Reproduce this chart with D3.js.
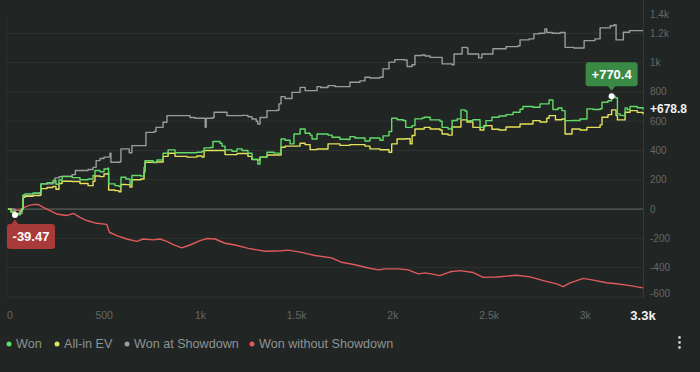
<!DOCTYPE html>
<html>
<head>
<meta charset="utf-8">
<script src="https://cdn.jsdelivr.net/npm/d3@7"></script>
<style>
  html, body { margin: 0; padding: 0; background: #212524; }
  svg { display: block; font-family: "Liberation Sans", Arial, sans-serif; }
</style>
</head>
<body>
<svg id="chart"></svg>
<script>
// [hand, amount]
const won = [[0,0],[16,-20],[36,-39.47],[62,-15],[73,0],[78,95],[88,104],[130,110],[166,113],[171,172],[203,180],[234,195],[249,170],[265,199],[281,222],[333,215],[374,200],[416,205],[442,230],[452,263],[478,255],[499,274],[518,280],[523,172],[556,160],[577,154],[587,217],[613,205],[634,170],[644,229],[691,225],[707,285],[712,331],[754,320],[774,335],[806,381],[832,404],[868,385],[930,385],[982,388],[1008,395],[1019,418],[1050,420],[1065,461],[1102,450],[1112,430],[1128,404],[1164,395],[1190,411],[1216,400],[1247,381],[1268,340],[1298,308],[1310,355],[1346,388],[1382,382],[1408,380],[1419,479],[1440,470],[1466,445],[1486,513],[1518,547],[1544,518],[1570,505],[1580,479],[1606,513],[1663,505],[1684,490],[1725,477],[1767,475],[1777,495],[1803,485],[1840,485],[1855,465],[1881,485],[1933,470],[1949,500],[1980,530],[1994,620],[2022,610],[2053,605],[2067,558],[2100,570],[2115,616],[2152,622],[2163,627],[2194,609],[2245,600],[2256,558],[2287,547],[2308,605],[2334,616],[2354,677],[2375,670],[2385,604],[2416,610],[2453,558],[2473,565],[2484,604],[2515,627],[2552,635],[2588,645],[2625,661],[2661,682],[2676,700],[2728,695],[2765,718],[2812,745],[2832,680],[2858,690],[2879,672],[2895,604],[2931,605],[2973,615],[3009,684],[3040,680],[3077,685],[3087,729],[3118,740],[3137,770.4],[3155,760],[3167,650],[3181,640],[3197,638],[3207,691],[3218,680],[3233,700],[3270,692],[3300,678.8]];

const allInEv = [[0,0],[16,-20],[36,-35],[62,-15],[73,0],[78,80],[88,88],[130,92],[166,95],[171,140],[203,147],[234,155],[249,135],[265,175],[281,190],[333,188],[374,175],[416,160],[442,190],[452,226],[478,222],[499,240],[518,245],[523,130],[556,126],[577,118],[587,168],[613,167],[634,150],[644,200],[691,205],[707,255],[712,320],[754,318],[774,322],[806,360],[832,381],[868,360],[930,355],[982,362],[1008,355],[1019,400],[1065,400],[1102,400],[1128,372],[1190,380],[1247,360],[1268,338],[1298,335],[1310,355],[1346,369],[1408,369],[1419,422],[1440,430],[1518,450],[1544,440],[1570,406],[1606,410],[1663,445],[1725,435],[1777,440],[1855,430],[1881,411],[1933,405],[1980,388],[1994,445],[2022,479],[2067,480],[2090,445],[2100,502],[2115,547],[2163,558],[2194,547],[2245,540],[2256,513],[2287,505],[2308,560],[2354,609],[2385,595],[2416,558],[2453,540],[2473,570],[2515,545],[2552,540],[2588,560],[2661,581],[2728,604],[2765,595],[2800,620],[2812,638],[2845,610],[2879,615],[2895,513],[2931,547],[2973,540],[3009,558],[3077,575],[3087,627],[3118,645],[3137,677],[3160,640],[3167,609],[3197,609],[3207,661],[3233,672],[3270,660],[3300,648]];

const wonAtShowdown = [[0,0],[36,-30],[73,0],[78,95],[130,105],[166,110],[171,172],[234,180],[244,213],[265,222],[281,225],[333,235],[350,263],[416,270],[442,285],[458,331],[478,345],[499,355],[530,381],[535,320],[583,325],[587,411],[613,411],[630,385],[644,433],[712,433],[717,524],[759,530],[769,558],[806,593],[826,638],[920,638],[946,625],[972,620],[1024,615],[1025,558],[1030,620],[1065,625],[1071,661],[1112,661],[1138,638],[1216,640],[1247,630],[1268,615],[1290,600],[1298,581],[1310,625],[1346,672],[1398,675],[1408,718],[1419,768],[1440,755],[1476,797],[1518,831],[1544,809],[1590,809],[1606,836],[1625,830],[1663,843],[1700,836],[1767,836],[1777,866],[1829,875],[1855,900],[1881,895],[1933,900],[1949,957],[1980,1003],[2010,1020],[2060,1018],[2074,973],[2100,985],[2115,1048],[2152,1052],[2168,1045],[2194,1036],[2245,1036],[2256,991],[2308,985],[2318,1059],[2345,1059],[2360,1104],[2385,1100],[2390,1059],[2420,1059],[2446,1032],[2463,1059],[2520,1095],[2550,1095],[2588,1109],[2650,1115],[2661,1155],[2708,1162],[2733,1196],[2760,1200],[2790,1230],[2800,1205],[2830,1200],[2870,1205],[2895,1104],[2940,1100],[2983,1100],[2994,1150],[3050,1162],[3077,1237],[3130,1252],[3150,1259],[3160,1155],[3190,1155],[3198,1207],[3230,1218],[3300,1218]];

const wonWithoutShowdown = [[0,0],[36,-10],[62,-5],[80,8],[106,24],[130,31],[158,31],[184,12],[218,-10],[253,-33],[305,-44],[340,-29],[374,-56],[409,-78],[461,-97],[513,-104],[527,-158],[565,-181],[617,-204],[669,-220],[703,-204],[755,-210],[790,-204],[825,-220],[859,-242],[903,-265],[946,-245],[998,-215],[1033,-201],[1076,-204],[1128,-233],[1180,-245],[1249,-268],[1336,-288],[1422,-284],[1457,-280],[1526,-295],[1595,-317],[1682,-333],[1734,-363],[1803,-380],[1873,-402],[1925,-415],[1959,-408],[2028,-408],[2080,-415],[2132,-442],[2167,-435],[2219,-447],[2245,-454],[2297,-428],[2349,-420],[2418,-433],[2470,-466],[2540,-463],[2644,-452],[2713,-463],[2782,-488],[2851,-510],[2886,-529],[2921,-503],[2990,-473],[3042,-485],[3111,-503],[3163,-510],[3233,-522],[3284,-534],[3300,-538]];

const seriesNames = ["Won", "All-in EV", "Won at Showdown", "Won without Showdown"];
const seriesColors = ["#62dc68", "#e4e25a", "#9c9c9c", "#e05a5a"];
const xTicks = [0, 500, 1000, 1500, 2000, 2500, 3000];
const xTickLabels = ["0", "500", "1k", "1.5k", "2k", "2.5k", "3k"];
const yTicks = [-600, -400, -200, 0, 200, 400, 600, 800, 1000, 1200, 1400];
const yTickLabels = ["-600", "-400", "-200", "0", "200", "400", "600", "800", "1k", "1.2k", "1.4k"];
const totalHands = 3300;
const totalLabel = "3.3k";

const W = 700, H = 372;
const svg = d3.select("#chart").attr("width", W).attr("height", H);
svg.append("rect").attr("width", W).attr("height", H).attr("fill", "#212524");

const x = d3.scaleLinear().domain([0, totalHands]).range([8, 643]);
const y = d3.scaleLinear().domain([-600, 1400]).range([297, 4]);

// grid
svg.append("g").selectAll("line")
  .data(yTicks.filter(v => y(v) > 10))
  .join("line")
  .attr("x1", 7).attr("x2", 643)
  .attr("y1", d => y(d)).attr("y2", d => y(d))
  .attr("stroke", d => d === 0 ? "#4a4f4e" : "#2e3332")
  .attr("stroke-width", d => d === 0 ? 1.6 : 1);

svg.append("line").attr("x1", 7).attr("x2", 7).attr("y1", 15).attr("y2", 297)
  .attr("stroke", "#2d3231");
svg.append("line").attr("x1", 643.5).attr("x2", 643.5).attr("y1", 0).attr("y2", 299)
  .attr("stroke", "#343938");

// y labels (clamped inside the plot)
svg.append("g").selectAll("text")
  .data(yTicks)
  .join("text")
  .attr("x", 650)
  .attr("y", d => Math.max(14, Math.min(293, y(d))))
  .attr("dy", "0.35em")
  .attr("fill", "#636867")
  .attr("font-size", 10)
  .text((d, i) => yTickLabels[i]);

// x labels
svg.append("g").selectAll("text")
  .data(xTicks)
  .join("text")
  .attr("x", d => d === 0 ? x(d) + 2 : x(d))
  .attr("y", 315)
  .attr("dy", "0.35em")
  .attr("text-anchor", "middle")
  .attr("fill", "#636867")
  .attr("font-size", 10.5)
  .text((d, i) => xTickLabels[i]);

svg.append("text")
  .attr("x", x(totalHands)).attr("y", 315).attr("dy", "0.35em")
  .attr("text-anchor", "middle")
  .attr("fill", "#f2f2f2").attr("font-size", 13).attr("font-weight", "bold")
  .text(totalLabel);

// lines
const stepLine = d3.line().x(d => x(d[0])).y(d => y(d[1])).curve(d3.curveStepAfter);
const smoothLine = d3.line().x(d => x(d[0])).y(d => y(d[1]));
const allSeries = [wonWithoutShowdown, wonAtShowdown, allInEv, won];
const order = [3, 2, 1, 0];
allSeries.forEach((s, i) => {
  svg.append("path")
    .datum(s)
    .attr("fill", "none")
    .attr("stroke", seriesColors[order[i]])
    .attr("stroke-width", 1.4)
    .attr("stroke-linejoin", "round")
    .attr("d", order[i] === 3 ? smoothLine : stepLine);
});

const fmt = v => (v > 0 ? "+" : "") + v;

// max callout
const peak = won.reduce((a, b) => b[1] > a[1] ? b : a);
const px = x(peak[0]), py = y(peak[1]);
const g1 = svg.append("g");
g1.append("rect").attr("x", px - 26).attr("y", py - 34).attr("width", 52).attr("height", 24)
  .attr("rx", 3).attr("fill", "#3a8a45");
g1.append("path").attr("d", `M${px - 4},${py - 10.5}L${px + 4},${py - 10.5}L${px},${py - 5.5}Z`).attr("fill", "#3a8a45");
g1.append("text").attr("x", px).attr("y", py - 22).attr("dy", "0.35em").attr("text-anchor", "middle")
  .attr("fill", "#ffffff").attr("font-size", 13).attr("font-weight", "bold").text(fmt(peak[1]));
g1.append("circle").attr("cx", px).attr("cy", py).attr("r", 3).attr("fill", "#ffffff");

// min callout
const low = won.reduce((a, b) => b[1] < a[1] ? b : a);
const lx = x(low[0]), ly = y(low[1]);
const g2 = svg.append("g");
const bx = Math.max(7, lx - 24);
g2.append("rect").attr("x", bx).attr("y", ly + 9).attr("width", 48).attr("height", 25)
  .attr("rx", 3).attr("fill", "#a83a3a");
g2.append("path").attr("d", `M${lx - 4},${ly + 9.5}L${lx + 4},${ly + 9.5}L${lx},${ly + 4.5}Z`).attr("fill", "#a83a3a");
g2.append("text").attr("x", bx + 24).attr("y", ly + 21.5).attr("dy", "0.35em").attr("text-anchor", "middle")
  .attr("fill", "#ffffff").attr("font-size", 13).attr("font-weight", "bold").text(fmt(low[1]));
g2.append("circle").attr("cx", lx).attr("cy", ly).attr("r", 3).attr("fill", "#ffffff");

// final value
const last = won[won.length - 1];
svg.append("text").attr("x", 650).attr("y", y(last[1]) - 1).attr("dy", "0.35em")
  .attr("fill", "#f2f2f2").attr("font-size", 12).attr("font-weight", "bold")
  .text(fmt(last[1]));

// legend
const legendX = [9, 57, 127, 252];
const legend = svg.append("g").selectAll("g")
  .data(seriesNames)
  .join("g")
  .attr("transform", (d, i) => `translate(${legendX[i]},344)`);
legend.append("circle").attr("r", 2.5).attr("fill", (d, i) => seriesColors[i]);
legend.append("text").attr("x", 7).attr("dy", "0.35em")
  .attr("fill", "#8e9392").attr("font-size", 12.6).text(d => d);

// menu dots
svg.append("g").selectAll("circle")
  .data([337.5, 342.5, 347.5])
  .join("circle")
  .attr("cx", 679.5).attr("cy", d => d).attr("r", 1.4).attr("fill", "#c8c8c8");
</script>
</body>
</html>
